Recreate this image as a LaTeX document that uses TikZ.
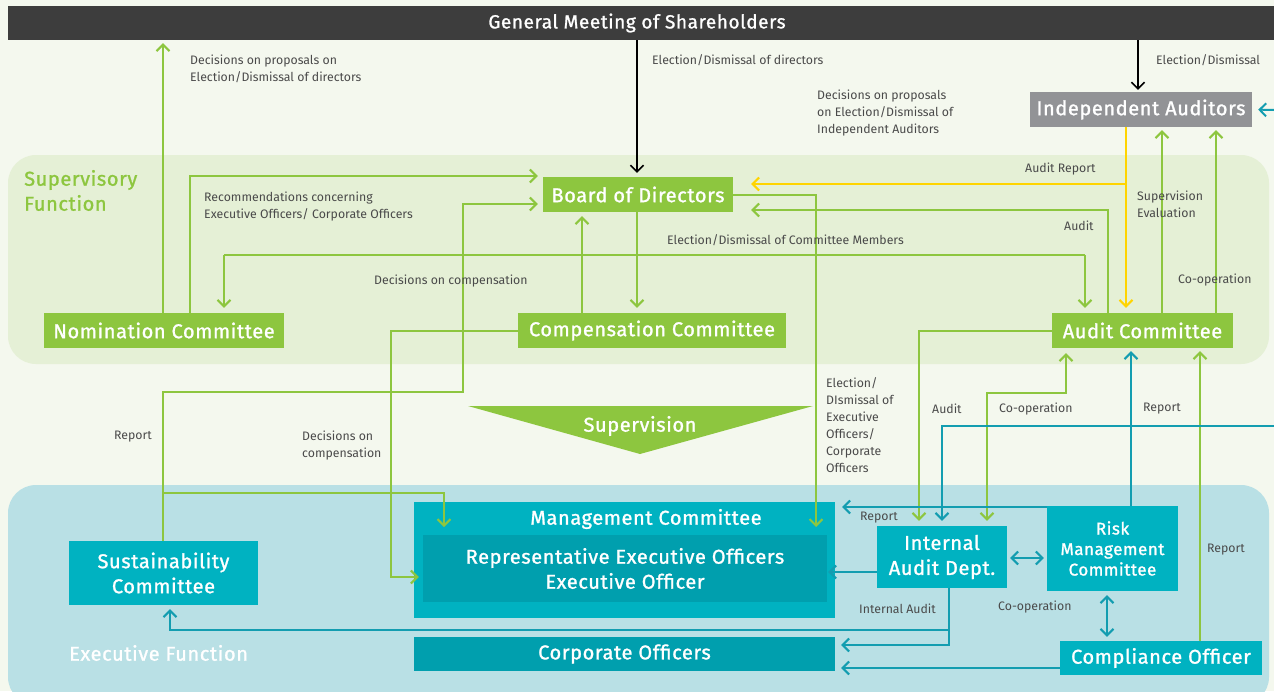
\documentclass[tikz,border=0pt]{standalone}
\usepackage{fontspec}
\setmainfont{Fira Sans}
\newfontfamily\bxf{Fira Sans}[FakeBold=1.2, LetterSpace=3]
\usetikzlibrary{arrows.meta}
\definecolor{bgc}{HTML}{F4F8EE}
\definecolor{supc}{HTML}{E5F0D6}
\definecolor{exc}{HTML}{B9E0E5}
\definecolor{cgreen}{HTML}{8DC63F}
\definecolor{cteal}{HTML}{00B2C1}
\definecolor{cteald}{HTML}{009FAE}
\definecolor{ctline}{HTML}{139DB0}
\definecolor{cyel}{HTML}{FFD400}
\definecolor{cdark}{HTML}{3D3D3D}
\definecolor{cgray}{HTML}{929396}
\definecolor{ctext}{HTML}{4A4A4A}
\begin{document}
\begin{tikzpicture}[x=1pt,y=-1pt,
 >={Straight Barb[length=6.5pt,width=13pt]},
 box/.style={inner sep=0pt, text=white, font=\bxf\fontsize{20}{22}\selectfont, align=center},
 gbox/.style={box, fill=cgreen},
 tbox/.style={box, fill=cteal},
 dbox/.style={box, fill=cteald},
 lbl/.style={inner sep=0pt, anchor=west, text=ctext, align=left, font=\fontsize{12.3}{17}\selectfont},
 gl/.style={draw=cgreen, line width=2pt},
 tl/.style={draw=ctline, line width=2pt},
 yl/.style={draw=cyel, line width=2pt},
 kl/.style={draw=black, line width=1.6pt},
]
\useasboundingbox (0,0) rectangle (1274,691);
\fill[bgc] (0,0) rectangle (1274,691);
\fill[supc, rounded corners=28pt] (8,155) rectangle (1269,364);
\fill[exc, rounded corners=28pt] (8,485) rectangle (1269,705);

% boxes
\node[box, fill=cdark, minimum width=1266pt, minimum height=34pt, font=\bxf\fontsize{19}{22}\selectfont] (gms) at (641,23) {\hspace*{-8pt}General Meeting of Shareholders};
\node[box, fill=cgray, minimum width=222pt, minimum height=35pt] (indep) at (1141,109.5) {Independent Auditors};
\node[gbox, minimum width=190pt, minimum height=35pt] (board) at (638,194.5) {Board of Directors};
\node[gbox, minimum width=240pt, minimum height=35pt] (nom) at (164,330.5) {Nomination Committee};
\node[gbox, minimum width=268pt, minimum height=35pt] (comp) at (652,330.5) {Compensation Committee};
\node[gbox, minimum width=181pt, minimum height=35pt] (audc) at (1142.5,330.5) {Audit Committee};
\node[tbox, minimum width=421pt, minimum height=116pt] (mgmt) at (624.5,560) {};
\node[box] (mgmtt) at (646,519) {Management Committee};
\node[dbox, minimum width=404pt, minimum height=67pt, font=\bxf\fontsize{20}{25}\selectfont] (rep) at (625,568.5) {Representative Executive Officers\\Executive Officer};
\node[dbox, minimum width=421pt, minimum height=34pt] (corp) at (624.5,654) {Corporate Officers};
\node[tbox, minimum width=189pt, minimum height=64pt, font=\bxf\fontsize{20}{25}\selectfont] (sust) at (163.5,573) {Sustainability\\Committee};
\node[tbox, minimum width=130pt, minimum height=62pt, font=\bxf\fontsize{20}{25}\selectfont] (iad) at (942,557) {Internal\\Audit Dept.};
\node[tbox, minimum width=131pt, minimum height=85pt, font=\bxf\fontsize{17}{20.5}\selectfont] (risk) at (1112.5,548.5) {Risk\\Management\\Committee};
\node[tbox, minimum width=202pt, minimum height=34pt] (compl) at (1161,658) {Compliance Officer};

% supervision triangle
\fill[cgreen] (468,406) -- (813,406) -- (640,454) -- cycle;
\node[box] (supv) at (640,426) {Supervision};

% region titles
\node[inner sep=0pt, anchor=west, align=left, text=cgreen, font=\bxf\fontsize{20}{25}\selectfont] (suptitle) at (24,190.5) {Supervisory\\Function};
\node[inner sep=0pt, anchor=west, text=white, font=\bxf\fontsize{20}{22}\selectfont] (extitle) at (69,653) {Executive Function};

% free ends
\coordinate (edgeA) at (1274,110);
\coordinate (edgeB) at (1274,426);
\coordinate (sjunc) at (163,493);
\coordinate (ajunc) at (949,630);
\coordinate (yjunc) at (1126,184);
\coordinate (ejl) at (224,255);
\coordinate (ejr) at (1085,255);

% connectors
\draw[gl,->,shorten >=3pt] (nom.north -| 163,0) -- (gms.south -| 163,0);
\draw[kl,->,shorten >=4pt] (gms.south -| 637,0) -- (board.north -| 637,0);
\draw[kl,->,shorten >=2pt] (gms.south -| 1138,0) -- (indep.north -| 1138,0);
\draw[gl,->,shorten >=5pt] (nom.north -| 190,0) -- (190,176) -- (board.west |- 0,176);
\draw[gl,->,shorten >=5pt] (sust.north -| 163,0) -- (163,392) -- (463,392) -- (463,204) -- (board.west |- 0,204);
\draw[gl,->] (sjunc) -- (444,493) -- (444,527);
\draw[gl,->,shorten >=5pt] (board.south -| 637,0) -- (comp.north -| 637,0);
\draw[gl,->,shorten >=4pt] (comp.north -| 582,0) -- (board.south -| 582,0);
\draw[gl] (ejl) -- (ejr);
\draw[gl,->,shorten >=5pt] (ejl) -- (nom.north -| 224,0);
\draw[gl,->,shorten >=5pt] (ejr) -- (audc.north -| 1085,0);
\draw[gl,->,shorten >=4pt] (comp.west) -- (391,330.5) -- (391,577) -- (rep.west |- 0,577);
\draw[gl,->] (board.east) -- (816,194.5) -- (816,527);
\draw[yl,->,shorten >=5pt] (indep.south -| 1126,0) -- (audc.north -| 1126,0);
\draw[yl,->,shorten >=18pt] (yjunc) -- (board.east |- 0,184);
\draw[gl,->,shorten >=18pt] (audc.north -| 1108,0) -- (1108,210) -- (board.east |- 0,210);
\draw[gl,->,shorten >=3pt] (audc.north -| 1162,0) -- (indep.south -| 1162,0);
\draw[gl,->,shorten >=3pt] (audc.north -| 1216,0) -- (indep.south -| 1216,0);
\draw[tl,->,shorten >=6pt] (edgeA) -- (indep.east);
\draw[gl,->,shorten >=5pt] (audc.west) -- (919,330.5) -- (iad.north -| 919,0);
\draw[gl,<->,shorten >=5pt,shorten <=5pt] (iad.north -| 987,0) -- (987,393) -- (1066,393) -- (audc.south -| 1066,0);
\draw[tl,->,shorten >=3pt] (risk.north -| 1131,0) -- (audc.south -| 1131,0);
\draw[gl,->,shorten >=3pt] (compl.north -| 1200,0) -- (audc.south -| 1200,0);
\draw[tl,->,shorten >=5pt] (edgeB) -- (942,426) -- (iad.north -| 942,0);
\draw[tl,->,shorten >=7pt] (risk.west |- 0,507) -- (mgmt.east |- 0,507);
\draw[tl,->,shorten >=1pt] (iad.west |- 0,572) -- (rep.east |- 0,572);
\draw[tl,->,shorten >=6pt] (iad.south -| 949,0) -- (949,645) -- (corp.east |- 0,645);
\draw[tl,->,shorten >=4pt] (ajunc) -- (170,630) -- (sust.south -| 170,0);
\draw[tl,->,shorten >=6pt] (compl.west |- 0,668) -- (corp.east |- 0,668);
\draw[tl,<->,shorten >=3pt,shorten <=3pt] (iad.east |- 0,558) -- (risk.west |- 0,558);
\draw[tl,<->,shorten >=4pt,shorten <=4pt] (risk.south -| 1107,0) -- (compl.north -| 1107,0);

% labels
\node[lbl] (l1) at (190,68.5) {Decisions on proposals on\\Election/Dismissal of directors};
\node[lbl] (l2) at (652,60) {Election/Dismissal of directors};
\node[lbl] (l3) at (1156,60) {Election/Dismissal};
\node[lbl] (l4) at (817,113) {Decisions on proposals\\on Election/Dismissal of\\Independent Auditors};
\node[lbl] (l5) at (204,206.5) {Recommendations concerning\\Executive Officers/ Corporate Officers};
\node[lbl] (l6) at (667,240) {Election/Dismissal of Committee Members};
\node[lbl] (l7) at (374,281) {Decisions on compensation};
\node[lbl] (l8) at (1025,169) {Audit Report};
\node[lbl] (l9) at (1137,204.5) {Supervision\\Evaluation};
\node[lbl] (l10) at (1064,226) {Audit};
\node[lbl] (l11) at (1178,280) {Co-operation};
\node[lbl] (l12) at (114,437) {Report};
\node[lbl] (l13) at (302,445.5) {Decisions on\\compensation};
\node[lbl] (l14) at (826,425.5) {Election/\\DIsmissal of\\Executive\\Officers/\\Corporate\\Officers};
\node[lbl] (l15) at (932,409) {Audit};
\node[lbl] (l16) at (999,409) {Co-operation};
\node[lbl] (l17) at (1143,409) {Report};
\node[lbl] (l18) at (860,518) {Report};
\node[lbl] (l19) at (859,609) {Internal Audit};
\node[lbl] (l20) at (998,607) {Co-operation};
\node[lbl] (l21) at (1207,550) {Report};
\end{tikzpicture}
\end{document}
